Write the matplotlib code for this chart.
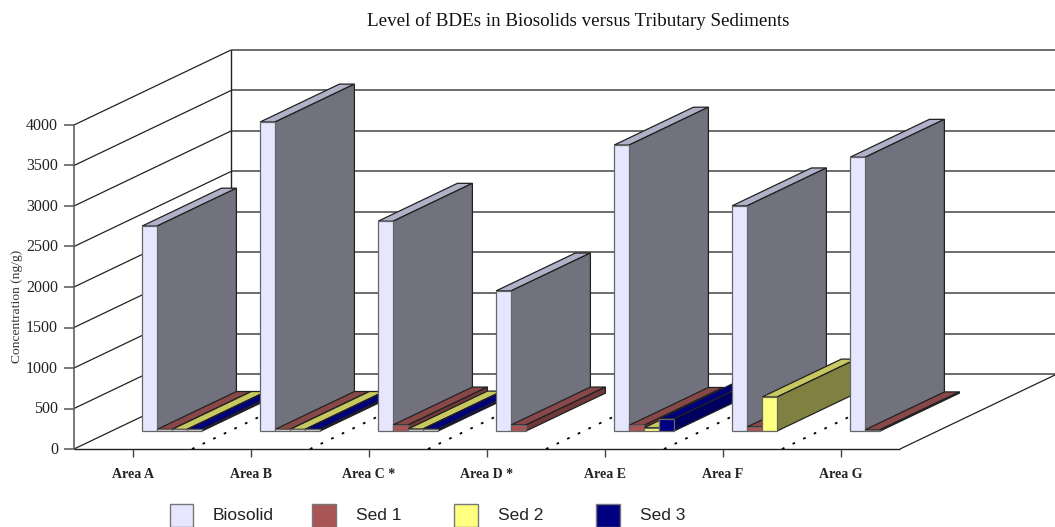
import matplotlib
matplotlib.use('Agg')
import matplotlib.pyplot as plt
from matplotlib.patches import Polygon, Rectangle

# datos (ng/g)
areas = ['Area A', 'Area B', 'Area C *', 'Area D *', 'Area E', 'Area F', 'Area G']
series = ['Biosolid', 'Sed 1', 'Sed 2', 'Sed 3']
biosolid = [2530, 3815, 2590, 1730, 3530, 2780, 3380]
sed1 = [20, 20, 75, 75, 70, 50, 15]
sed2 = [20, 20, 25, 0, 40, 420, 0]
sed3 = [20, 20, 25, 0, 150, 0, 0]
y_ticks = [0, 500, 1000, 1500, 2000, 2500, 3000, 3500, 4000]

front_col = ['#E6E6FF', '#AA5555', '#FFFF80', '#000080']
side_col = ['#72727E', '#703838', '#808040', '#000060']
top_col = ['#B0B0C8', '#884848', '#C8C860', '#000078']

W, H = 1055, 527
PX_X = 118.0       # pixeles por categoria
PX_Y = 0.081       # pixeles por ng/g
X0, Y0 = 74, 449   # origen del eje frontal
DEPTH_X = 157 / PX_X
DEPTH_Y = 75 / PX_Y

fig = plt.figure(figsize=(W / 100, H / 100), dpi=100)
ax = fig.add_axes([0, 0, 1, 1])
ax.set_xlim(-X0 / PX_X, (W - X0) / PX_X)
ax.set_ylim(-(H - Y0) / PX_Y, Y0 / PX_Y)
ax.axis('off')
plt.rcParams['font.family'] = 'Liberation Serif'


def proj(x, y, z):
    # proyeccion oblicua, z=0 frente, z=1 fondo
    return (x + z * DEPTH_X, y + z * DEPTH_Y)


def line(p, q, color='#222222', lw=0.9, **kw):
    ax.plot([p[0], q[0]], [p[1], q[1]], color=color, lw=lw, solid_capstyle='butt', **kw)


# paredes y rejilla
x_end = (W - X0) / PX_X
for v in y_ticks:
    line(proj(0, v, 0), proj(0, v, 1), '#222222', 0.9)
    line(proj(0, v, 1), (x_end, v + DEPTH_Y), '#444444', 1.1)
    line((-10 / PX_X, v), (0, v), '#555555', 1.1)
    ax.text(-16 / PX_X, v - 12, str(v), ha='right', va='center', fontsize=11.5, color='#222222')
line(proj(0, 0, 0), proj(0, 4000, 0), '#555555', 1.1)
line(proj(0, 0, 1), proj(0, 4000, 1), '#222222', 1.0)

# suelo
line((0, 0), (7, 0), '#222222', 1.0)
line((7, 0), proj(7, 0, 1), '#222222', 0.9)

# marcas y etiquetas de categoria, separadores punteados
for i, name in enumerate(areas):
    line((i + 0.5, 0), (i + 0.5, -8 / PX_Y), '#444444', 1.0)
    ax.text(i + 0.5, -25 / PX_Y, name, ha='center', va='center', fontsize=10, fontweight='bold', color='#222222')
    if i > 0:
        a, b = proj(i, 0, 0), proj(i, 0, 1)
        ax.plot([a[0], b[0]], [a[1], b[1]], color='black', lw=1.3, ls=(0, (1.5, 5)))

# barras 3d
values = [biosolid, sed1, sed2, sed3]
Z0, Z1 = 0.24, 0.745
GAP = 0.258
BAR_W = 15 / PX_X
for i in range(len(areas)):
    for j in range(len(series)):
        v = values[j][i]
        if v == 0 and j > 1:
            continue
        x0 = i + GAP + j * BAR_W
        x1 = x0 + BAR_W
        lw = 0.9
        top = [proj(x0, v, Z0), proj(x1, v, Z0), proj(x1, v, Z1), proj(x0, v, Z1)]
        side = [proj(x1, 0, Z0), proj(x1, 0, Z1), proj(x1, v, Z1), proj(x1, v, Z0)]
        front = [proj(x0, 0, Z0), proj(x1, 0, Z0), proj(x1, v, Z0), proj(x0, v, Z0)]
        # las barras casi planas se ven como una tira gris en el original
        fc = '#DDDDDD' if v < 30 else front_col[j]
        ax.add_patch(Polygon(top, fc=top_col[j], ec='#222222', lw=lw, zorder=3 + i + j * 0.1))
        ax.add_patch(Polygon(side, fc=side_col[j], ec='#222222', lw=lw, zorder=3 + i + j * 0.1))
        ax.add_patch(Polygon(front, fc=fc, ec='#666666', lw=lw, zorder=3 + i + j * 0.1))

# titulo y etiqueta del eje
fig.text(578 / W, 1 - 21 / H, 'Level of BDEs in Biosolids versus Tributary Sediments',
         ha='center', va='center', fontsize=13.7, color='#111111')
fig.text(17 / W, 1 - 306 / H, 'Concentration (ng/g)', rotation=90, ha='center', va='center',
         fontsize=9.7, color='#333333')

# leyenda
leg_x = [169.5, 312, 454, 596]
for j, name in enumerate(series):
    fig.add_artist(Rectangle((leg_x[j] / W, 0), 23.5 / W, 23.5 / H, transform=fig.transFigure,
                             fc=front_col[j], ec='#777777', lw=1.0))
    fig.text((leg_x[j] + 43.5) / W, 1 - 515 / H, name, ha='left', va='center',
             family='Liberation Sans', fontsize=12.5, color='#222222')

plt.savefig('out.png', dpi=100)
